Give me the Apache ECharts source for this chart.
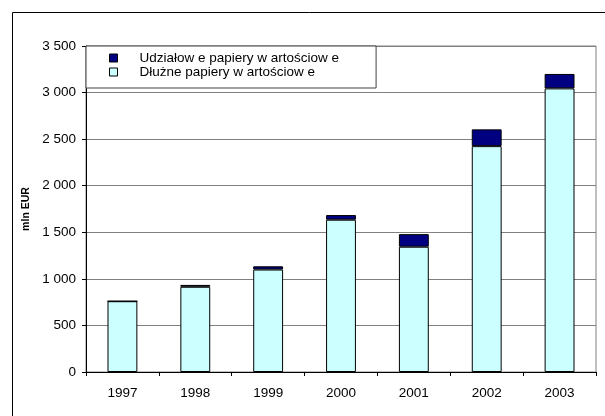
<!DOCTYPE html>
<html>
<head>
<meta charset="utf-8">
<script src="https://cdn.jsdelivr.net/npm/echarts@6/dist/echarts.min.js"></script>
<style>
html,body{margin:0;padding:0;background:#fff;}
#c{width:605px;height:416px;}
</style>
</head>
<body>
<div id="c"></div>
<script>
var years = ['1997','1998','1999','2000','2001','2002','2003'];
var debtName = 'Dłużne papiery w artościow e';
var equityName = 'Udziałow e papiery w artościow e';
var debtValues = [760, 915, 1100, 1635, 1345, 2425, 3045];
var equityValues = [0, 20, 35, 50, 135, 180, 155];
var yTicks = {min: 0, max: 3500, interval: 500};

var chart = echarts.init(document.getElementById('c'), null, {renderer: 'canvas'});
var font = 'Liberation Sans, Arial, sans-serif';
function fmt(v){
  var s = String(v);
  return s.replace(/\B(?=(\d{3})+(?!\d))/g, ' ');
}
chart.setOption({
  animation: false,
  backgroundColor: '#fff',
  textStyle: {fontFamily: font},
  graphic: [{
    type: 'rect',
    shape: {x: 12.5, y: 12.5, width: 700, height: 500},
    style: {fill: 'none', stroke: '#000', lineWidth: 1},
    z: 100
  }],
  grid: {left: 86, right: 9, top: 46, bottom: 44, show: true, borderColor: '#808080', borderWidth: 1, backgroundColor: 'transparent'},
  legend: {
    orient: 'vertical',
    left: 86, top: 46,
    data: [{name: equityName, icon: 'rect'}, {name: debtName, icon: 'rect'}],
    backgroundColor: '#fff',
    borderColor: '#404040',
    borderWidth: 1,
    padding: [5, 37, 9, 23],
    itemWidth: 8, itemHeight: 8,
    itemGap: 0,
    textStyle: {fontFamily: font, fontSize: 13.5, lineHeight: 13.5, color: '#000', padding: [0, 0, 0, 17]},
    itemStyle: {borderColor: '#000', borderWidth: 1}
  },
  xAxis: {
    type: 'category',
    data: years,
    axisLine: {lineStyle: {color: '#000', width: 1}},
    axisTick: {show: true, inside: false, length: 4, alignWithLabel: false, lineStyle: {color: '#000'}},
    axisLabel: {fontFamily: font, fontSize: 13.5, color: '#000', margin: 14},
    splitLine: {show: false}
  },
  yAxis: {
    type: 'value',
    min: yTicks.min, max: yTicks.max, interval: yTicks.interval,
    name: 'mln EUR',
    nameLocation: 'middle',
    nameGap: 52,
    nameRotate: 90,
    nameTextStyle: {fontFamily: font, fontSize: 10.5, fontWeight: 'bold', color: '#000'},
    axisLine: {show: true, lineStyle: {color: '#000', width: 1}},
    axisTick: {show: true, length: 4, lineStyle: {color: '#000'}},
    axisLabel: {fontFamily: font, fontSize: 13.5, color: '#000', margin: 10, formatter: fmt},
    splitLine: {show: true, lineStyle: {color: '#808080', width: 1}}
  },
  series: [
    {
      name: debtName, type: 'bar', stack: 'total', data: debtValues,
      barWidth: '41%',
      itemStyle: {color: '#CCFFFF', borderColor: '#000', borderWidth: 1}
    },
    {
      name: equityName, type: 'bar', stack: 'total', data: equityValues,
      barWidth: '41%',
      itemStyle: {color: '#000080', borderColor: '#000', borderWidth: 1}
    }
  ]
});
</script>
</body>
</html>
